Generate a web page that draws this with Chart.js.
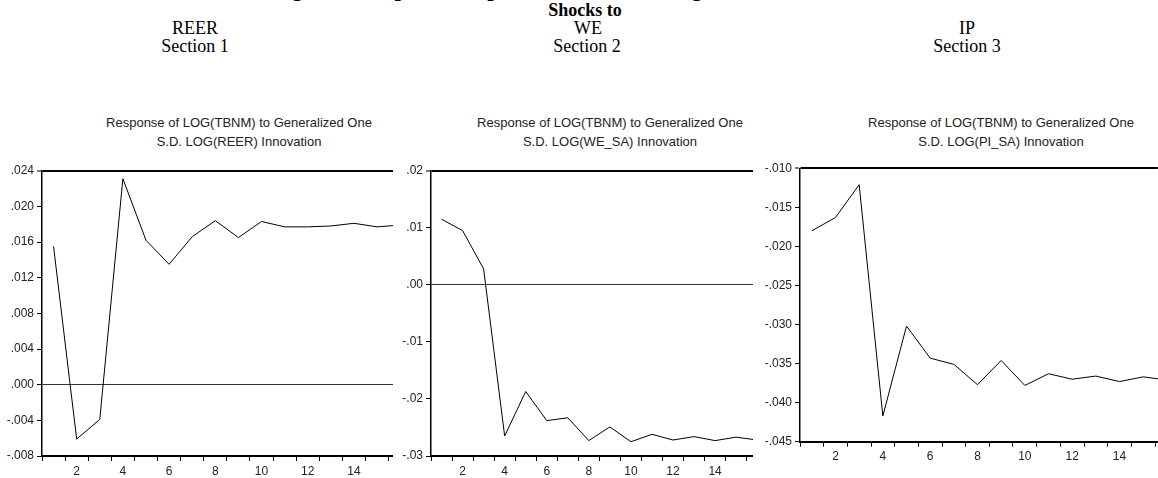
<!DOCTYPE html>
<html>
<head>
<meta charset="utf-8">
<script src="https://cdn.jsdelivr.net/npm/chart.js@4.4.0/dist/chart.umd.min.js"></script>
<style>
  html, body { margin: 0; padding: 0; background: #fff; overflow: hidden; }
  body { width: 1158px; height: 478px; position: relative; font-family: "Liberation Serif", "Times New Roman", serif; color: #000; }
  .hdr { position: absolute; white-space: nowrap; font-size: 18px; line-height: 18px; transform: translateX(-50%); }
  .fig { position: absolute; white-space: nowrap; font-size: 23px; line-height: 23px; font-weight: bold; }
  .ptitle { position: absolute; white-space: nowrap; color: #222; font-family: "Liberation Sans", Arial, sans-serif;
            font-size: 13px; line-height: 19px; text-align: center; transform: translateX(-50%); }
  canvas { position: absolute; }
</style>
</head>
<body>
<div class="fig" style="left:271px; top:-23px;">Figure 5: Impulse Response Function of Nigeria’s Trade Balance</div>
<div class="hdr" style="left:585px; top:1px; font-weight:bold;">Shocks to</div>
<div class="hdr" style="left:195px; top:19px;">REER</div>
<div class="hdr" style="left:588px; top:19px;">WE</div>
<div class="hdr" style="left:967px; top:19px;">IP</div>
<div class="hdr" style="left:195px; top:37px;">Section 1</div>
<div class="hdr" style="left:587px; top:37px;">Section 2</div>
<div class="hdr" style="left:967px; top:37px;">Section 3</div>

<div class="ptitle" style="left:239px; top:113px;">Response of LOG(TBNM) to Generalized One<br>S.D. LOG(REER) Innovation</div>
<div class="ptitle" style="left:610px; top:113px;">Response of LOG(TBNM) to Generalized One<br>S.D. LOG(WE_SA) Innovation</div>
<div class="ptitle" style="left:1001px; top:113px;">Response of LOG(TBNM) to Generalized One<br>S.D. LOG(PI_SA) Innovation</div>

<canvas id="c1" width="393" height="328" style="left:0px; top:150px;"></canvas>
<canvas id="c2" width="360" height="328" style="left:393px; top:150px;"></canvas>
<canvas id="c3" width="398" height="328" style="left:760px; top:150px;"></canvas>

<script>
// Periods after the shock
const periods = [1, 2, 3, 4, 5, 6, 7, 8, 9, 10, 11, 12, 13, 14, 15, 16];

// Response of LOG(TBNM) to one S.D. shocks
const reerResponse = [0.0155, -0.0061, -0.0039, 0.0231, 0.0162, 0.0135, 0.0166, 0.0184,
                      0.0165, 0.0183, 0.0177, 0.0177, 0.0178, 0.0181, 0.0177, 0.0179];
const weResponse   = [0.0115, 0.0095, 0.0028, -0.0265, -0.0187, -0.0238, -0.0233, -0.0273,
                      -0.0249, -0.0275, -0.0262, -0.0272, -0.0266, -0.0273, -0.0267, -0.0272];
const ipResponse   = [-0.0180, -0.0163, -0.0121, -0.0417, -0.0302, -0.0343, -0.0351, -0.0377,
                      -0.0346, -0.0378, -0.0363, -0.0370, -0.0366, -0.0373, -0.0367, -0.0371];

// Axis ticks
const reerTicks = [-0.008, -0.004, 0, 0.004, 0.008, 0.012, 0.016, 0.020, 0.024];
const weTicks   = [-0.03, -0.02, -0.01, 0, 0.01, 0.02];
const ipTicks   = [-0.045, -0.040, -0.035, -0.030, -0.025, -0.020, -0.015, -0.010];
const periodLabels = [2, 4, 6, 8, 10, 12, 14];

// ".024" / "-.008" style labels
function fmt(v, d) {
  const s = Math.abs(v).toFixed(d).replace(/^0/, '');
  return (v < -1e-12 ? '-' : '') + s;
}

const tickFont = { family: '"Liberation Sans", Arial, sans-serif', size: 12 };

function panel(id, values, yTicks, decimals, xMax, yWidth, padTop, padBottom) {
  const yMin = yTicks[0], yMax = yTicks[yTicks.length - 1];
  const isEdge = v => Math.abs(v - yMax) < 1e-9;
  const isZero = v => Math.abs(v) < 1e-9;
  new Chart(document.getElementById(id), {
    type: 'line',
    data: {
      datasets: [{
        data: periods.map((p, i) => ({ x: p, y: values[i] })),
        borderColor: '#000',
        borderWidth: 1,
        pointRadius: 0,
        tension: 0,
        fill: false
      }]
    },
    options: {
      responsive: false,
      animation: false,
      events: [],
      layout: { padding: { top: padTop, right: 0, bottom: padBottom, left: 0 } },
      plugins: { legend: { display: false }, tooltip: { enabled: false }, title: { display: false } },
      scales: {
        x: {
          type: 'linear',
          min: 0.5,
          max: xMax,
          afterBuildTicks: s => {
            const t = [];
            for (let i = 1; i / 2 <= xMax; i++) t.push({ value: i / 2 });
            s.ticks = t;
          },
          afterFit: s => { s.height = 22; },
          ticks: {
            autoSkip: false,
            maxRotation: 0,
            padding: 3,
            color: '#222',
            font: tickFont,
            callback: v => periodLabels.includes(v) ? String(v) : ''
          },
          grid: {
            drawOnChartArea: false,
            drawTicks: true,
            tickLength: 5,
            tickWidth: 1,
            tickColor: c => (c.tick && c.tick.value % 1 !== 0) ? '#000' : 'rgba(0,0,0,0)'
          },
          border: { display: true, color: '#000', width: 2 }
        },
        y: {
          min: yMin,
          max: yMax,
          afterBuildTicks: s => { s.ticks = yTicks.map(v => ({ value: v })); },
          afterFit: s => { s.width = yWidth; },
          ticks: {
            autoSkip: false,
            padding: 3,
            color: '#222',
            font: tickFont,
            callback: v => fmt(v, decimals)
          },
          grid: {
            drawOnChartArea: true,
            drawTicks: true,
            tickLength: 5,
            tickWidth: 1,
            tickColor: '#000',
            color: c => {
              if (!c.tick) return 'rgba(0,0,0,0)';
              if (isEdge(c.tick.value)) return '#000';
              if (isZero(c.tick.value)) return '#333';
              return 'rgba(0,0,0,0)';
            },
            lineWidth: c => (c.tick && isEdge(c.tick.value)) ? 2 : 1
          },
          border: { display: true, color: '#000', width: 1.5 }
        }
      }
    }
  });
}

panel('c1', reerResponse, reerTicks, 3, 15.69, 42, 20.7, 0);
panel('c2', weResponse, weTicks, 2, 15.8, 38, 20.7, 0);
panel('c3', ipResponse, ipTicks, 3, 15.62, 40, 18.3, 14.3);
</script>
</body>
</html>
